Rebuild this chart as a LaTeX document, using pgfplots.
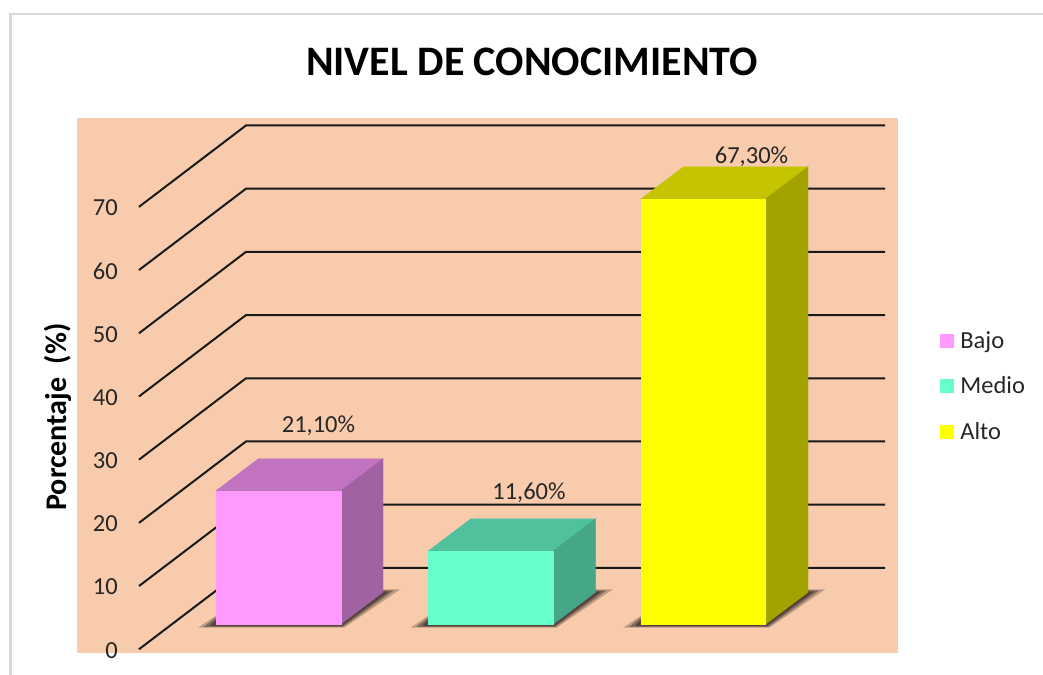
\documentclass[border=0pt]{standalone}
\usepackage{fontspec}
\setmainfont{Carlito}
\usepackage{pgfplots}
\pgfplotsset{compat=1.18}
\definecolor{peach}{HTML}{F7CBAC}
\definecolor{txt}{HTML}{262626}
\definecolor{pinkF}{HTML}{FF99FF}
\definecolor{pinkT}{HTML}{C173C0}
\definecolor{pinkS}{HTML}{A062A3}
\definecolor{mintF}{HTML}{66FFCC}
\definecolor{mintT}{HTML}{4FC29D}
\definecolor{mintS}{HTML}{45A688}
\definecolor{yelF}{HTML}{FFFF00}
\definecolor{yelT}{HTML}{C4C400}
\definecolor{yelS}{HTML}{A3A300}
\definecolor{shad}{HTML}{3A2A28}
\pgfplotsset{
  raised/.style={y filter/.expression={y+3.96}},
  face/.style={raised,fill=#1,draw=#1,line width=0.4pt,forget plot},
  grd/.style={draw=black!90,line width=2pt,forget plot,no markers},
}
\newcommand{\shadowset}[1]{%
  \addplot[raised,x filter/.expression={x+#1},fill=shad,draw=none,opacity=.3,forget plot] coordinates {(198,-0.55)(344,-0.55)(400,5.5)(383,5.5)(215,1.25)};
  \addplot[raised,x filter/.expression={x+#1},fill=shad,draw=none,opacity=.45,forget plot] coordinates {(204,-0.4)(343,-0.4)(394,5.35)(383,5.35)(215,0.95)};
  \addplot[raised,x filter/.expression={x+#1},fill=shad,draw=none,opacity=.6,forget plot] coordinates {(210,-0.25)(342,-0.25)(389,5.2)(383,5.2)(215,0.6)};
}
\begin{document}
\begin{tikzpicture}
\begin{axis}[
  scale only axis,
  x=1pt, y=6.32pt,
  xmin=77, xmax=898, ymin=-0.58, ymax=84.07,
  clip=false,
  axis background/.style={fill=peach},
  axis lines=left,
  axis line style={draw=none},
  tick style={draw=none},
  xtick=\empty,
  ytick={0,10,...,70},
  tick label style={font=\fontsize{24.5}{28}\selectfont, text=txt},
  yticklabel style={xshift=46.5pt,yshift=-1pt},
  /pgf/number format/assume math mode=true,
  title={\fontsize{42}{50}\selectfont\bfseries NIVEL DE CONOCIMIENTO},
  title style={at={(0.5542,1.0935)},anchor=center,text=black},
  ylabel={\fontsize{30}{36}\selectfont\bfseries Porcentaje\ \ (\%)},
  every axis y label/.style={at={(-0.0231,0.441)},rotate=90,anchor=center,text=black},
  legend cell align=left,
  legend style={at={(axis cs:940,50.35)},anchor=north west,draw=none,fill=none,
    font=\fontsize{24.5}{28}\selectfont, text=txt,
    row sep=27pt, inner sep=0pt, nodes={inner sep=0pt}},
  legend image code/.code={\fill[#1] (0pt,-6.5pt) rectangle (13pt,6.5pt);\path[draw=none,fill=none] (0pt,0pt) -- (20pt,0pt);},
]
% frame
\addplot[draw=black!15,line width=2.5pt,forget plot] coordinates {(10.5,-4.07)(10.5,100.5)(1043,100.5)};
% gridlines
\addplot[grd] coordinates {(139,0)(246,12.88)(885,12.88)};
\addplot[grd] coordinates {(139,10)(246,22.88)(885,22.88)};
\addplot[grd] coordinates {(139,20)(246,32.88)(885,32.88)};
\addplot[grd] coordinates {(139,30)(246,42.88)(885,42.88)};
\addplot[grd] coordinates {(139,40)(246,52.88)(885,52.88)};
\addplot[grd] coordinates {(139,50)(246,62.88)(885,62.88)};
\addplot[grd] coordinates {(139,60)(246,72.88)(885,72.88)};
\addplot[grd] coordinates {(139,70)(246,82.88)(885,82.88)};
% shadows
\shadowset{0}
\shadowset{212.5}
\shadowset{425.2}
% Bajo 21.1
\addplot[face=pinkT] coordinates {(215.5,21.1)(340.7,21.1)(383,26.16)(257.8,26.16)};
\addplot[face=pinkS] coordinates {(340.7,0)(383,5.06)(383,26.16)(340.7,21.1)};
\addplot[raised,fill=pinkF,draw=pinkF,line width=0.4pt] coordinates {(215.5,0)(340.7,0)(340.7,21.1)(215.5,21.1)};
\addlegendentry{Bajo}
% Medio 11.6
\addplot[face=mintT] coordinates {(428,11.6)(553.2,11.6)(595.5,16.66)(470.3,16.66)};
\addplot[face=mintS] coordinates {(553.2,0)(595.5,5.06)(595.5,16.66)(553.2,11.6)};
\addplot[raised,fill=mintF,draw=mintF,line width=0.4pt] coordinates {(428,0)(553.2,0)(553.2,11.6)(428,11.6)};
\addlegendentry{Medio}
% Alto 67.3
\addplot[face=yelT] coordinates {(640.7,67.3)(765.5,67.3)(808,72.36)(683,72.36)};
\addplot[face=yelS] coordinates {(765.5,0)(808,5.06)(808,72.36)(765.5,67.3)};
\addplot[raised,fill=yelF,draw=yelF,line width=0.4pt] coordinates {(640.7,0)(765.5,0)(765.5,67.3)(640.7,67.3)};
\addlegendentry{Alto}
% data labels
\node[font=\fontsize{24.5}{28}\selectfont,text=txt] at (axis cs:318.5,35.3) {21,10\%};
\node[font=\fontsize{24.5}{28}\selectfont,text=txt] at (axis cs:529,24.7) {11,60\%};
\node[font=\fontsize{24.5}{28}\selectfont,text=txt] at (axis cs:751.5,77.9) {67,30\%};
\coordinate (bbA) at (axis cs:0,-4.07);
\coordinate (bbB) at (axis cs:1043,102.73);
\end{axis}
\pgfresetboundingbox
\path[use as bounding box] (bbA) rectangle (bbB);
\end{tikzpicture}
\end{document}
